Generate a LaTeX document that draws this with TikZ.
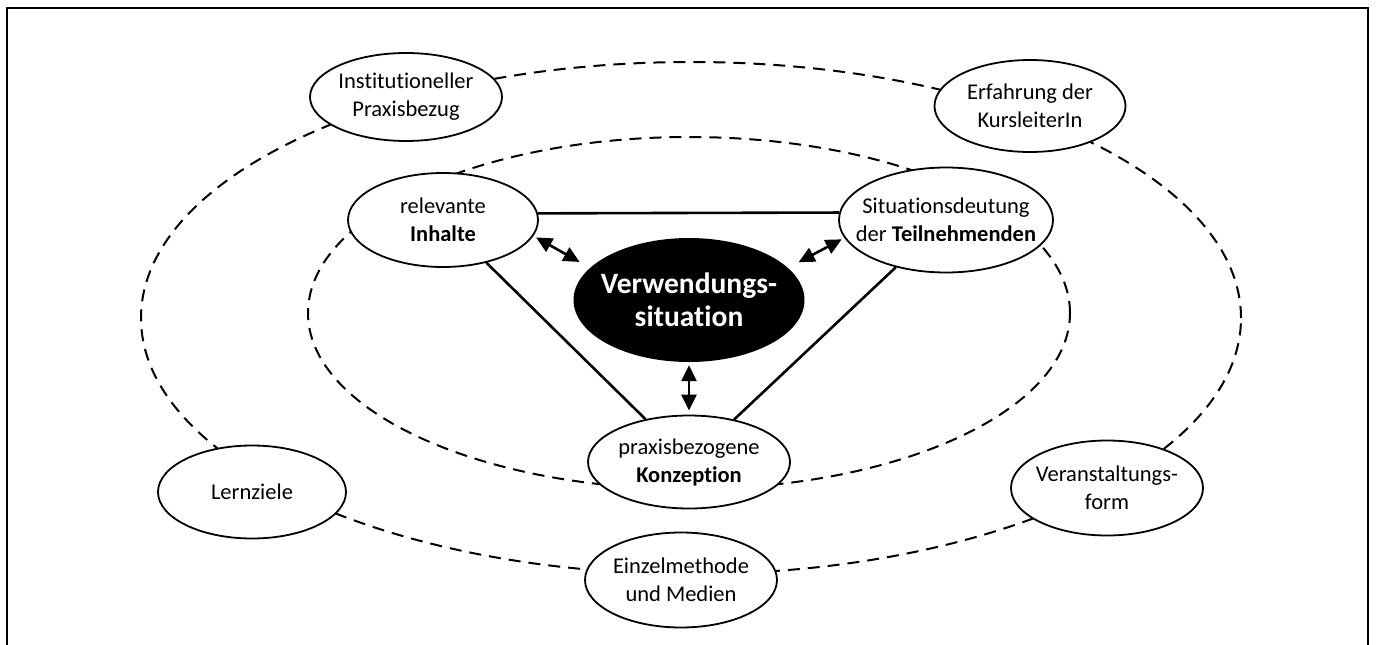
\documentclass[tikz,border=0pt]{standalone}
\usepackage{fontspec}
\setmainfont{Carlito}[Ligatures=NoCommon]
\usetikzlibrary{shapes.geometric,arrows.meta}
\begin{document}
\begin{tikzpicture}[x=1pt,y=-1pt,
  oval/.style={ellipse,draw,line width=1.8pt,fill=white,inner sep=0pt},
  txt/.style={align=center,font=\fontsize{22.5}{28}\selectfont,inner sep=0pt},
  ring/.style={line width=2pt,dash pattern=on 12pt off 8pt},
  side/.style={line width=2.6pt},
  both/.style={line width=2.6pt,{Triangle[length=16pt,width=15pt]}-{Triangle[length=16pt,width=15pt]}},
]
\useasboundingbox (0,0) rectangle (1376,645);
% open frame (no bottom edge)
\draw[line width=2.4pt] (7,645) -- (7,8) -- (1368,8) -- (1368,645);

% the two dashed rings
\coordinate (outer-c) at (691,318);
\coordinate (inner-c) at (689,313);
\draw[ring] (outer-c) ellipse [x radius=550pt, y radius=256pt];
\draw[ring] (inner-c) ellipse [x radius=381pt, y radius=176pt];

% outer ring nodes
\node[oval,minimum width=192pt,minimum height=88pt] (inst) at (406,97) {};
\node[txt] (inst-t) at (inst) {Institutioneller\\Praxisbezug};
\node[oval,minimum width=191pt,minimum height=92pt] (erf) at (1030,106) {};
\node[txt] (erf-t) at (erf) {Erfahrung der\\KursleiterIn};
\node[oval,minimum width=188pt,minimum height=93pt] (lern) at (252,492) {};
\node[txt] (lern-t) at (lern) {Lernziele};
\node[oval,minimum width=192pt,minimum height=95pt] (vera) at (1107,488) {};
\node[txt] (vera-t) at (vera) {Veranstaltungs-\\form};
\node[oval,minimum width=192pt,minimum height=95pt] (ein) at (681,580) {};
\node[txt] (ein-t) at (ein) {Einzelmethode\\und Medien};

% inner triangle nodes
\node[oval,minimum width=190pt,minimum height=94pt] (inh) at (443,220) {};
\node[txt] (inh-t) at (inh) {relevante\\\textbf{Inhalte}};
\node[oval,minimum width=214pt,minimum height=105pt] (sit) at (946,220) {};
\node[txt] (sit-t) at (sit) {Situationsdeutung\\der \textbf{Teilnehmenden}};
\node[oval,minimum width=202pt,minimum height=93pt] (kon) at (689,462) {};
\node[txt] (kon-t) at (kon) {praxisbezogene\\\textbf{Konzeption}};

% centre
\node[ellipse,fill=black,inner sep=0pt,minimum width=231pt,minimum height=124pt] (ver) at (689,300) {};
\node[txt,text=white,font=\bfseries\fontsize{29.5}{33}\selectfont] (ver-t) at (ver) {Verwendungs-\\situation};

% triangle sides
\draw[side] (inh.4) -- (sit.176);
\draw[side] (inh) -- (kon);
\draw[side] (sit) -- (kon);

% double arrows to the centre
\draw[both,shorten <=3pt,shorten >=12pt] (inh.-10) -- (ver.162);
\draw[both,shorten <=3pt,shorten >=12pt] (sit.190) -- (ver.18);
\draw[both,shorten <=3pt,shorten >=4pt] (ver.south) -- (kon.north);
\end{tikzpicture}
\end{document}
